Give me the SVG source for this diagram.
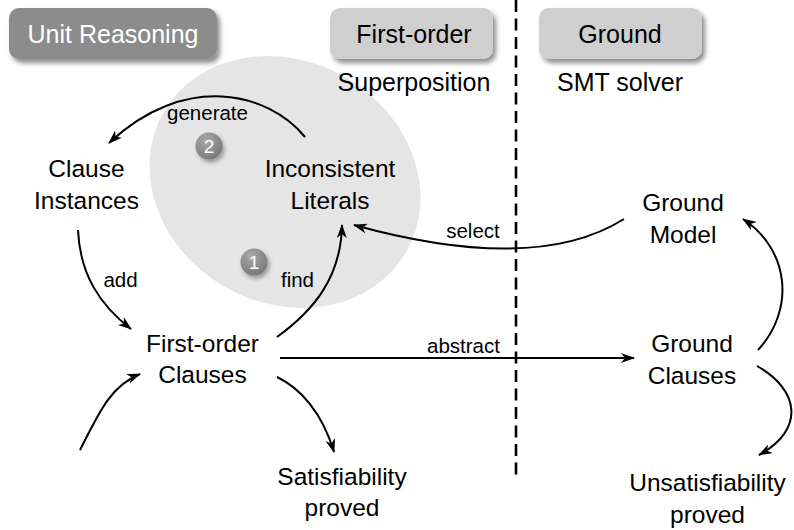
<svg xmlns="http://www.w3.org/2000/svg" width="794" height="530" viewBox="0 0 794 530">
  <defs>
    <filter id="shadow" x="-20%" y="-30%" width="150%" height="180%">
      <feDropShadow dx="3" dy="4" stdDeviation="2.5" flood-color="#000" flood-opacity="0.45"/>
    </filter>
    <filter id="bshadow" x="-50%" y="-50%" width="220%" height="220%">
      <feDropShadow dx="2" dy="3" stdDeviation="2" flood-color="#000" flood-opacity="0.35"/>
    </filter>
    <radialGradient id="badge" cx="0.4" cy="0.3" r="0.8">
      <stop offset="0" stop-color="#aaaaaa"/>
      <stop offset="1" stop-color="#727272"/>
    </radialGradient>
    <marker id="arrow" viewBox="0 0 14 10" markerWidth="14" markerHeight="10" refX="13" refY="5" orient="auto" markerUnits="userSpaceOnUse">
      <path d="M0,0 L14,5 L0,10 L4,5 z" fill="#000"/>
    </marker>
  </defs>
  <style>
    text { font-family: "Liberation Sans", Arial, Helvetica, sans-serif; text-anchor: middle; fill: #000; }
    .hdr { font-size: 25px; }
    .node { font-size: 24.5px; }
    .lbl { font-size: 20.5px; }
    .badge-t { font-size: 19px; fill: #fff; }
    .conn { fill: none; stroke: #000; stroke-width: 2; marker-end: url(#arrow); }
  </style>

  <rect width="794" height="530" fill="#fff"/>

  <!-- highlight region -->
  <ellipse id="region" cx="285" cy="182" rx="140" ry="121" transform="rotate(30 285 182)" fill="#e5e5e5"/>

  <!-- divider -->
  <line id="divider" x1="516" y1="0" x2="516" y2="476" stroke="#000" stroke-width="2.6" stroke-dasharray="12 6.5"/>

  <!-- headers -->
  <g id="hdr-unit">
    <rect x="9" y="8" width="208" height="51" rx="10" fill="#8c8c8c" filter="url(#shadow)"/>
    <text class="hdr" x="113" y="43" style="fill:#fff">Unit Reasoning</text>
  </g>
  <g id="hdr-firstorder">
    <rect x="330" y="8" width="163" height="51" rx="10" fill="#cfcfcf" filter="url(#shadow)"/>
    <text class="hdr" x="414" y="43">First-order</text>
    <text class="hdr" x="414" y="91">Superposition</text>
  </g>
  <g id="hdr-ground">
    <rect x="539" y="8" width="163" height="51" rx="10" fill="#cfcfcf" filter="url(#shadow)"/>
    <text class="hdr" x="620" y="43">Ground</text>
    <text class="hdr" x="620" y="91">SMT solver</text>
  </g>

  <!-- connectors -->
  <g id="connectors">
    <path class="conn" d="M305,137 C268,92 185,72 109,143"/>
    <path class="conn" d="M78,230 C80,275 100,305 131,329"/>
    <path class="conn" d="M277,337 C313,311 341,278 342,225"/>
    <path class="conn" d="M624,219 Q535,275 354,225"/>
    <path class="conn" d="M280,358 L634,358"/>
    <path class="conn" d="M758,350 C795,310 790,250 743,219"/>
    <path class="conn" d="M757,366 C800,390 805,430 759,455"/>
    <path class="conn" d="M80,450 C100,410 112,385 140,374"/>
    <path class="conn" d="M277,377 C300,388 322,412 334,452"/>
    <text class="lbl" x="207.5" y="120">generate</text>
    <text class="lbl" x="120.5" y="287">add</text>
    <text class="lbl" x="297.5" y="287">find</text>
    <text class="lbl" x="473" y="238">select</text>
    <text class="lbl" x="463.5" y="353">abstract</text>
  </g>

  <!-- badges -->
  <g id="badge-2">
    <circle cx="209" cy="146" r="13.5" fill="url(#badge)" filter="url(#bshadow)"/>
    <text class="badge-t" x="209" y="153">2</text>
  </g>
  <g id="badge-1">
    <circle cx="254" cy="262" r="13.5" fill="url(#badge)" filter="url(#bshadow)"/>
    <text class="badge-t" x="254" y="269">1</text>
  </g>

  <!-- nodes -->
  <g id="clause-instances">
    <text class="node" x="86.5" y="177">Clause</text>
    <text class="node" x="86.5" y="209">Instances</text>
  </g>
  <g id="inconsistent-literals">
    <text class="node" x="330" y="177">Inconsistent</text>
    <text class="node" x="330" y="209">Literals</text>
  </g>
  <g id="ground-model">
    <text class="node" x="683" y="211">Ground</text>
    <text class="node" x="683" y="243">Model</text>
  </g>
  <g id="firstorder-clauses">
    <text class="node" x="202.5" y="352">First-order</text>
    <text class="node" x="202.5" y="383">Clauses</text>
  </g>
  <g id="ground-clauses">
    <text class="node" x="692" y="352">Ground</text>
    <text class="node" x="692" y="384">Clauses</text>
  </g>
  <g id="satisfiability">
    <text class="node" x="342" y="485">Satisfiability</text>
    <text class="node" x="342" y="516">proved</text>
  </g>
  <g id="unsatisfiability">
    <text class="node" x="707.5" y="491">Unsatisfiability</text>
    <text class="node" x="707.5" y="523">proved</text>
  </g>
</svg>
